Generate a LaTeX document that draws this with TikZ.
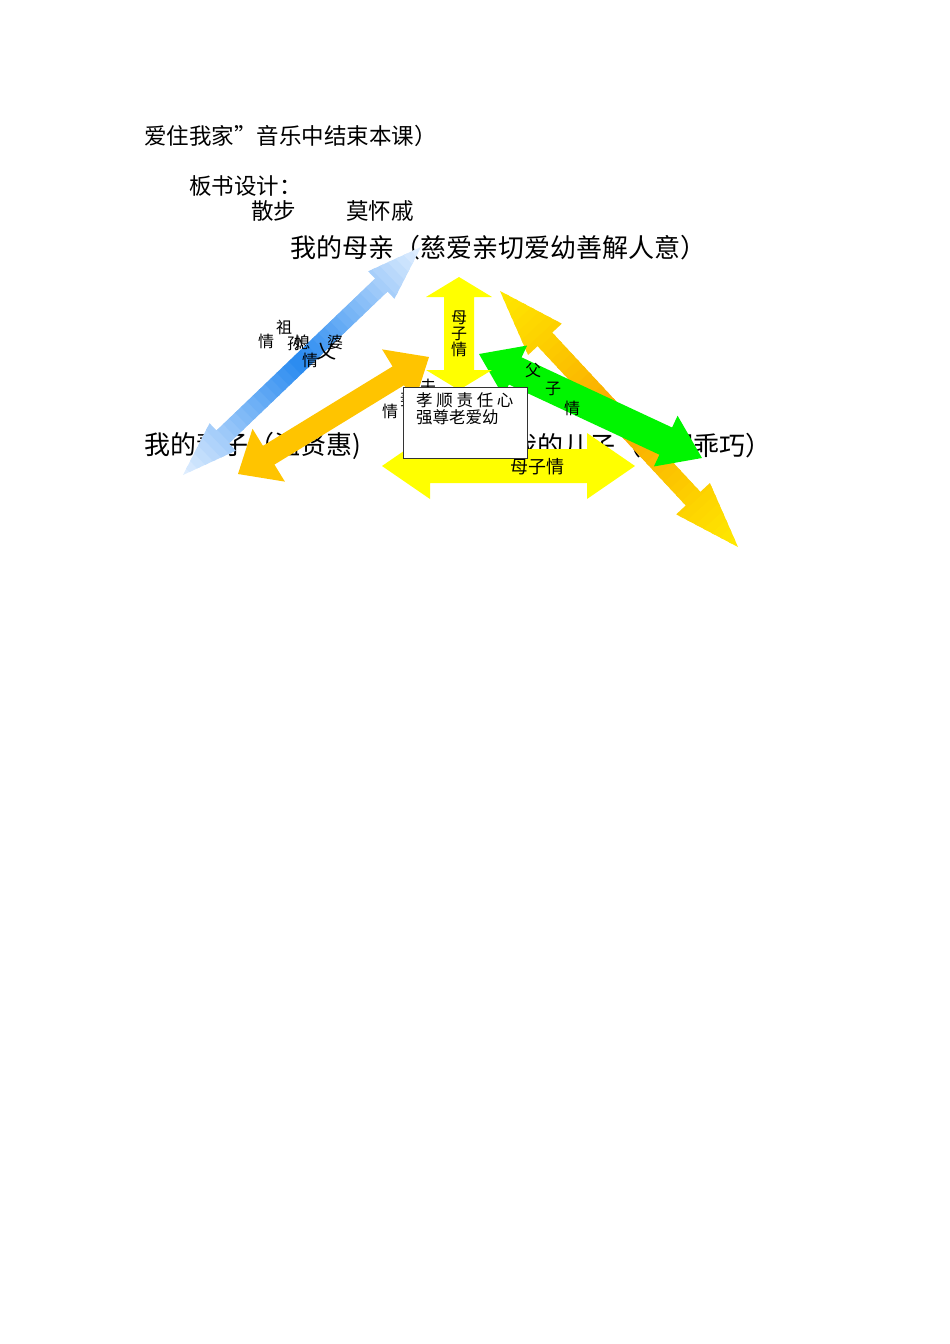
\documentclass[tikz,border=0pt]{standalone}
\usepackage{fontspec}
\setmainfont{Noto Sans CJK SC}
\usetikzlibrary{calc}

\definecolor{bluedark}{RGB}{40,138,240}
\definecolor{bluelight}{RGB}{228,240,255}
\definecolor{goldfill}{RGB}{255,196,0}
\definecolor{yellowfill}{RGB}{255,255,0}
\definecolor{greenfill}{RGB}{0,245,0}
\definecolor{orangemid}{RGB}{250,166,0}
\definecolor{yellowend}{RGB}{255,234,0}

\tikzset{
  bigtext/.style={font=\fontsize{26}{30}\selectfont, anchor=west, inner sep=0pt},
  midtext/.style={font=\fontsize{22.5}{27}\selectfont, anchor=west, inner sep=0pt},
  smalltext/.style={font=\fontsize{16}{16}\selectfont, inner sep=0pt},
  boxline/.style={draw=black!80, line width=1pt, fill=white, minimum width=124pt,
    minimum height=71pt, anchor=north west, inner sep=0pt},
  boxtext/.style={font=\fontsize{16.5}{17}\selectfont, anchor=north west, align=left, inner sep=0pt}
}

% double headed block arrow: style, tip, tip, head length, head half width, shaft half width
\newcommand{\dblarrow}[6]{%
  \path[#1] (#2)
    -- ($(#2)!#4pt!(#3)!#5pt!90:(#3)$)
    -- ($(#2)!#4pt!(#3)!#6pt!90:(#3)$)
    -- ($(#3)!#4pt!(#2)!#6pt!-90:(#2)$)
    -- ($(#3)!#4pt!(#2)!#5pt!-90:(#2)$)
    -- (#3)
    -- ($(#3)!#4pt!(#2)!#5pt!90:(#2)$)
    -- ($(#3)!#4pt!(#2)!#6pt!90:(#2)$)
    -- ($(#2)!#4pt!(#3)!#6pt!-90:(#3)$)
    -- ($(#2)!#4pt!(#3)!#5pt!-90:(#3)$)
    -- cycle;}

% same arrow, light at the tips and dark in the middle
\newcommand{\gradarrow}[8]{% end colour, middle colour, tip, tip, head length, head half width, shaft half width, name
  \begin{scope}
    \dblarrow{clip}{#3}{#4}{#5}{#6}{#7}
    \coordinate (#8far) at ($(#3)!3!(#4)$);
    \foreach \i in {0,...,39} {
      \pgfmathsetmacro{\ta}{(\i-0.2)/40}
      \pgfmathsetmacro{\tb}{(\i+1.2)/40}
      \pgfmathtruncatemacro{\mixv}{100*abs(1-(2*\i+1)/40)}
      \fill[#1!\mixv!#2] ($(#3)!\ta!(#4)!80pt!90:(#8far)$) -- ($(#3)!\tb!(#4)!80pt!90:(#8far)$)
        -- ($(#3)!\tb!(#4)!80pt!-90:(#8far)$) -- ($(#3)!\ta!(#4)!80pt!-90:(#8far)$) -- cycle;
    }
  \end{scope}}

\begin{document}
\begin{tikzpicture}[x=1pt,y=-1pt]
  \useasboundingbox (0,0) rectangle (950,1344);

  % Text
  \node[midtext] (ending) at (144,136) {爱住我家”音乐中结束本课）};
  \node[midtext] (design) at (189,186) {板书设计：};
  \node[midtext] (title) at (251,211) {散步};
  \node[midtext] (author) at (346,211) {莫怀戚};
  \node[bigtext] (mother) at (290,248) {我的母亲（慈爱亲切爱幼善解人意）};
  \node[bigtext] (wife) at (144,446) {我的妻子（温贤惠)};
  \node[bigtext] (son) at (511,446) {我的儿子（聪明乖巧）};

  % Arrow ends
  \coordinate (blueA) at (183,475);
  \coordinate (blueB) at (421,247);
  \coordinate (goldA) at (238,474);
  \coordinate (goldB) at (429,357);
  \coordinate (longA) at (500,291);
  \coordinate (longB) at (738,547);
  \coordinate (greenA) at (479,354);
  \coordinate (greenB) at (702,458);
  \coordinate (vertA) at (459,277);
  \coordinate (vertB) at (459,390);
  \coordinate (horA) at (382,466);
  \coordinate (horB) at (635,466);

  % Blue arrow
  \gradarrow{bluelight}{bluedark}{blueA}{blueB}{55}{19}{9}{blue}

  \node[smalltext] (zu) at (284,327) {祖};
  \node[smalltext] (qingA) at (266,341) {情};
  \node[smalltext] (sun) at (295,343) {孙};
  \node[smalltext] (xi) at (302,342) {媳};
  \node[smalltext] (po) at (335,342) {婆};
  \node[smalltext] (qingB) at (310,360) {情};
  \node[smalltext, font=\fontsize{20}{20}\selectfont] (yi) at (326,352) {乂};

  % Gold arrow
  \dblarrow{fill=goldfill}{goldA}{goldB}{36}{31}{11}

  % Long orange arrow
  \gradarrow{yellowend}{orangemid}{longA}{longB}{66}{23}{10}{long}

  % Green arrow
  \dblarrow{fill=greenfill}{greenA}{greenB}{40}{28}{15}
  \node[smalltext] (fuA) at (533,370) {父};
  \node[smalltext] (ziA) at (553,389) {子};
  \node[smalltext] (qingC) at (572,408) {情};

  % Yellow arrows
  \dblarrow{fill=yellowfill}{vertA}{vertB}{20}{33}{15}
  \node[smalltext, align=center] (muzi) at (459,334) {母\\子\\情};
  \dblarrow{fill=yellowfill}{horA}{horB}{48}{33}{17}
  \node[smalltext, font=\fontsize{18}{18}\selectfont] (muziB) at (537,467) {母子情};

  % Box
  \node[smalltext] (fuB) at (428,386) {夫};
  \node[smalltext] (qi) at (408,399) {妻};
  \node[smalltext] (qingD) at (390,411) {情};
  \node[boxline] (box) at (403,387) {};
  \node[boxtext] (virtue) at ($(box.north west)+(13,5)$) {孝 顺 责 任 心\\强尊老爱幼};
\end{tikzpicture}
\end{document}
